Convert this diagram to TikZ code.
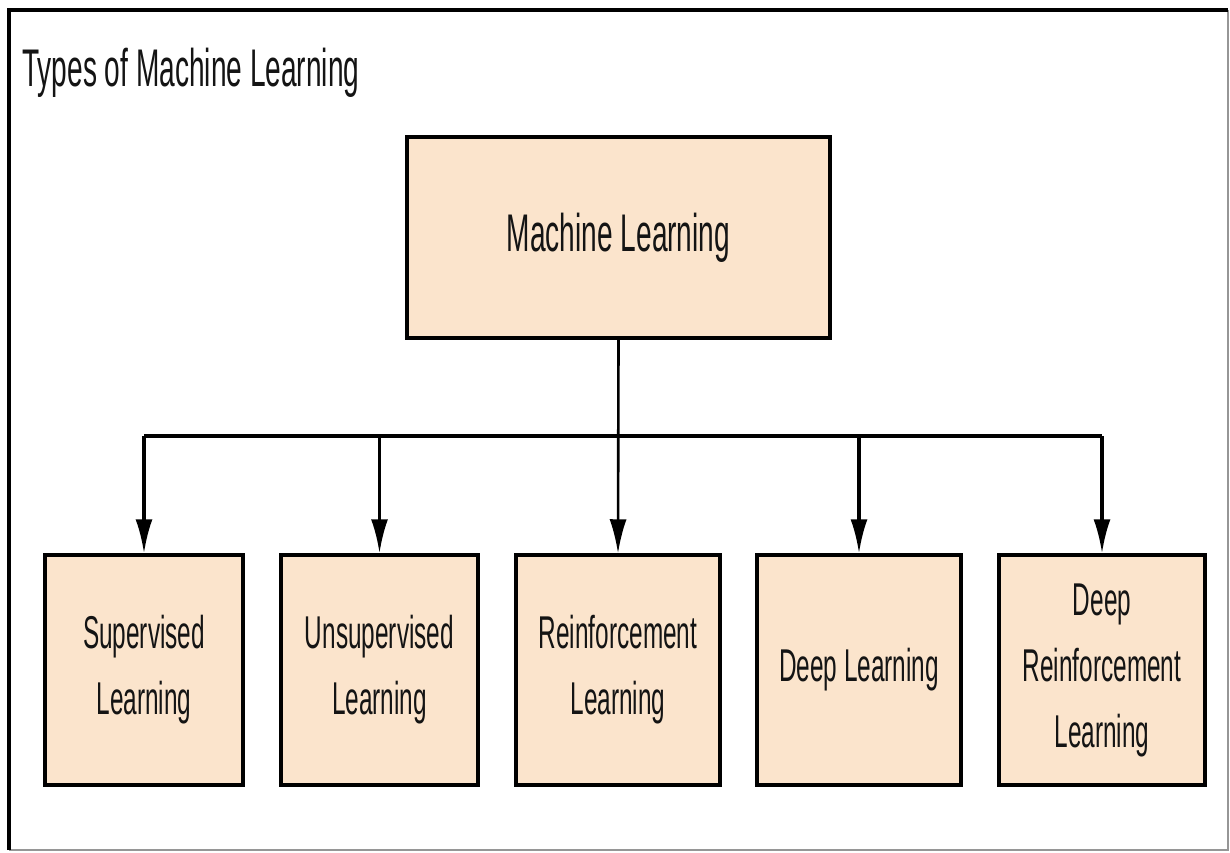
\documentclass[tikz,border=0pt]{standalone}
\usepackage{fontspec}
\usetikzlibrary{arrows.meta}
\newfontfamily\narrowsans[FakeStretch=0.53]{Liberation Sans}
\definecolor{peach}{RGB}{251,228,204}
\definecolor{ink}{RGB}{20,20,20}
\definecolor{edgegray}{RGB}{150,150,150}

\tikzset{
  mlbox/.style={draw=black, line width=3.5pt, fill=peach, text=ink,
    align=center, inner sep=0pt},
  topbox/.style={mlbox, minimum width=423pt, minimum height=201pt,
    font=\narrowsans\fontsize{53}{60}\selectfont},
  typebox/.style={mlbox, minimum height=230pt,
    font=\narrowsans\fontsize{46}{66}\selectfont},
  bus/.style={draw=black, line width=3.8pt},
  feed/.style={draw=black, line width=3.2pt, -{Latex[length=34pt,width=17pt]}},
}

\begin{document}
\begin{tikzpicture}[x=1pt,y=-1pt]
  \useasboundingbox (0,0) rectangle (1230,852);
  \fill[white] (0,0) rectangle (1230,852);

  % outer frame: dark top and left edges, lighter right and bottom edges
  \draw[edgegray, line width=2pt] (9,850) -- (1228,850) -- (1228,10);
  \draw[black, line width=4.5pt] (9,850) -- (9,10) -- (1228,10);

  % heading
  \node[anchor=base west, inner sep=0pt, text=ink,
        font=\narrowsans\fontsize{53}{60}\selectfont] (title) at (22,86)
        {Types of Machine Learning};

  % root
  \node[topbox] (ml) at (618.5,237.5) {Machine Learning};

  % categories
  \node[typebox, minimum width=198pt] (sl)  at (144,670)    {Supervised\\Learning};
  \node[typebox, minimum width=197pt] (ul)  at (379.5,670)  {Unsupervised\\Learning};
  \node[typebox, minimum width=204pt] (rl)  at (618,670)    {Reinforcement\\Learning};
  \node[typebox, minimum width=204pt] (dl)  at (859,670)    {Deep Learning};
  \node[typebox, minimum width=206pt] (drl) at (1102,670)   {Deep\\Reinforcement\\Learning};

  % distribution bar
  \coordinate (busy) at (0,436);
  \draw[bus] (sl.north |- busy) -- (drl.north |- busy);

  % connectors
  \draw[feed, line width=2.6pt] (ml.south) -- (rl.north);
  \draw[feed] (sl.north |- busy) -- (sl.north);
  \draw[feed] (ul.north |- busy) -- (ul.north);
  \draw[feed] (dl.north |- busy) -- (dl.north);
  \draw[feed] (drl.north |- busy) -- (drl.north);
\end{tikzpicture}
\end{document}
